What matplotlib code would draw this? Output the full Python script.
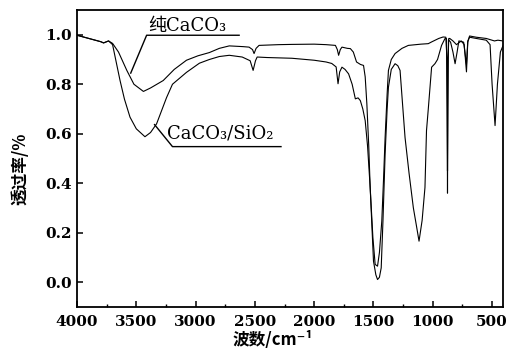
import matplotlib
matplotlib.use("Agg")
import matplotlib.pyplot as plt
from matplotlib.ticker import MultipleLocator, FormatStrFormatter

# IR spectrum of pure CaCO3
pure_wn = [4000, 3900, 3800, 3776, 3734, 3700, 3650, 3580, 3520, 3440, 3380, 3273,
           3180, 3077, 2980, 2884, 2800, 2716, 2600, 2549, 2520, 2507, 2490, 2465,
           2300, 2188, 2000, 1900, 1821, 1805, 1794, 1780, 1766, 1720, 1695, 1670,
           1643, 1610, 1584, 1570, 1556, 1540, 1528, 1505, 1486, 1466, 1450, 1430,
           1415, 1402, 1385, 1374, 1350, 1318, 1260, 1206, 1100, 1038, 1010, 950,
           913, 890, 880, 876, 872, 865, 857, 830, 800, 760, 735, 716, 705, 690,
           633, 549, 480, 451, 409]
pure_t = [0.998, 0.985, 0.972, 0.967, 0.975, 0.965, 0.93, 0.856, 0.80, 0.771, 0.785, 0.815,
          0.86, 0.897, 0.915, 0.928, 0.945, 0.955, 0.952, 0.950, 0.94, 0.924, 0.945, 0.957,
          0.960, 0.961, 0.962, 0.960, 0.957, 0.94, 0.917, 0.94, 0.950, 0.945, 0.944, 0.93,
          0.890, 0.880, 0.876, 0.83, 0.721, 0.55, 0.383, 0.18, 0.072, 0.065, 0.12, 0.247,
          0.42, 0.585, 0.76, 0.856, 0.90, 0.924, 0.945, 0.957, 0.962, 0.964, 0.971, 0.985,
          0.991, 0.99, 0.90, 0.36, 0.90, 0.985, 0.985, 0.975, 0.96, 0.975, 0.96, 0.85, 0.97, 0.995,
          0.99, 0.985, 0.975, 0.978, 0.975]

# IR spectrum of CaCO3/SiO2 composite
comp_wn = [4000, 3900, 3800, 3776, 3734, 3700, 3637, 3600, 3553, 3500, 3427, 3380,
           3329, 3245, 3195, 3077, 2968, 2884, 2800, 2716, 2607, 2540, 2515, 2495,
           2481, 2400, 2188, 2000, 1900, 1852, 1815, 1799, 1785, 1766, 1740, 1710,
           1680, 1653, 1630, 1611, 1590, 1570, 1550, 1528, 1500, 1480, 1466, 1450,
           1435, 1420, 1402, 1385, 1374, 1350, 1318, 1295, 1276, 1255, 1234, 1200,
           1164, 1135, 1116, 1090, 1066, 1053, 1038, 1010, 982, 960, 926, 898, 885,
           879, 876, 873, 868, 850, 830, 812, 795, 780, 740, 716, 705, 690, 633, 549,
           517, 500, 475, 455, 430, 409]
comp_t = [0.998, 0.985, 0.972, 0.967, 0.975, 0.96, 0.815, 0.74, 0.667, 0.62, 0.588, 0.605,
          0.640, 0.746, 0.80, 0.848, 0.885, 0.90, 0.912, 0.917, 0.910, 0.895, 0.856, 0.895,
          0.910, 0.908, 0.905, 0.897, 0.89, 0.884, 0.87, 0.802, 0.85, 0.869, 0.86, 0.842,
          0.80, 0.741, 0.745, 0.734, 0.70, 0.653, 0.55, 0.383, 0.085, 0.03, 0.011, 0.02,
          0.058, 0.25, 0.518, 0.70, 0.788, 0.86, 0.883, 0.875, 0.856, 0.72, 0.585, 0.44,
          0.301, 0.22, 0.166, 0.25, 0.383, 0.613, 0.70, 0.869, 0.883, 0.90, 0.957, 0.984, 0.985,
          0.70, 0.45, 0.70, 0.98, 0.97, 0.93, 0.883, 0.93, 0.975, 0.97, 0.88, 0.975, 0.99, 0.985, 0.978,
          0.96, 0.80, 0.633, 0.80, 0.93, 0.955]

serif = ["DejaVu Serif", "Noto Sans CJK SC"]
cjk = ["Noto Sans CJK SC", "DejaVu Sans"]

fig = plt.figure(figsize=(5.09, 3.60), dpi=100)
ax = fig.add_axes([77 / 509, 53 / 360, 426 / 509, 297 / 360])

ax.plot(pure_wn, pure_t, color="black", lw=0.8)
ax.plot(comp_wn, comp_t, color="black", lw=0.8)

ax.set_xlim(4000, 408)
ax.set_ylim(-0.1, 1.1)
ax.xaxis.set_major_locator(MultipleLocator(500))
ax.xaxis.set_minor_locator(MultipleLocator(250))
ax.yaxis.set_major_locator(MultipleLocator(0.2))
ax.yaxis.set_major_formatter(FormatStrFormatter("%.1f"))
ax.tick_params(which="both", direction="in", top=False, right=False)
ax.tick_params(which="major", length=4, width=1.1)
ax.tick_params(which="minor", length=2, width=1.0)
ax.tick_params(axis="x", pad=6)
ax.tick_params(axis="y", pad=4)
for lab in ax.get_xticklabels() + ax.get_yticklabels():
    lab.set_fontfamily("DejaVu Serif")
    lab.set_fontweight("bold")
    lab.set_fontsize(11)
for sp in ax.spines.values():
    sp.set_linewidth(1.3)

# leader lines for the two curve labels
ax.plot([3547, 3413, 2633], [0.845, 0.998, 0.998], color="black", lw=1.0)
ax.plot([3346, 3195, 2280], [0.637, 0.548, 0.548], color="black", lw=1.0)
ax.text(3400, 1.014, "纯CaCO₃", family=serif, fontsize=13, va="baseline", ha="left")
ax.text(3245, 0.58, "CaCO₃/SiO₂", family=serif, fontsize=13, va="baseline", ha="left")

fig.text(20 / 509, 1 - 169 / 360, "透过率/%", family=cjk, fontweight="bold",
         fontsize=12, rotation=90, ha="center", va="center")
fig.text(273 / 509, 1 - 340 / 360, "波数/cm⁻¹", family=["Noto Sans CJK SC", "DejaVu Serif"],
         fontweight="bold", fontsize=12, ha="center", va="center")

fig.savefig("out.png", dpi=100)
